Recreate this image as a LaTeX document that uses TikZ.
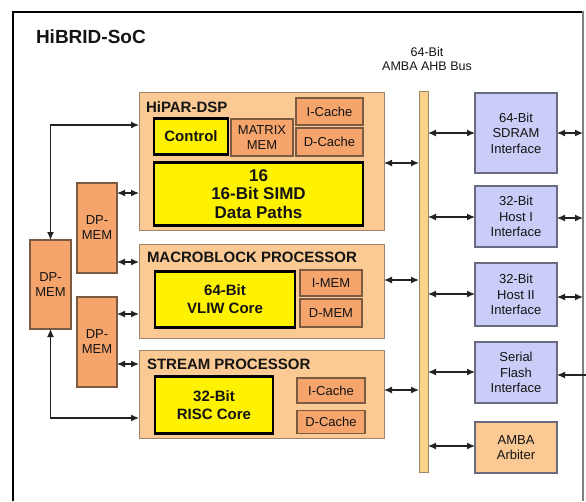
\documentclass[tikz,border=0pt]{standalone}
\usepackage{fontspec}
\setmainfont{Liberation Sans}
\usetikzlibrary{arrows.meta}
\definecolor{procfill}{HTML}{FAC994}
\definecolor{procdraw}{HTML}{9E8468}
\definecolor{memfill}{HTML}{F5A46C}
\definecolor{memdraw}{HTML}{7A5A40}
\definecolor{iffill}{HTML}{CACDF7}
\definecolor{ifdraw}{HTML}{6A6A80}
\definecolor{busfill}{HTML}{F9D48A}
\definecolor{arrowc}{HTML}{222222}
\definecolor{txt}{HTML}{141414}
\begin{document}
\begin{tikzpicture}[x=1pt,y=-1pt,
  every node/.style={inner sep=0pt,outer sep=0pt,text=txt},
  proc/.style={draw=procdraw,fill=procfill,line width=1pt},
  mem/.style={draw=memdraw,fill=memfill,line width=1.1pt,align=center,font=\fontsize{13}{15}\selectfont},
  core/.style={draw=black,fill=yellow,line width=2.4pt,align=center,font=\fontsize{15}{18}\selectfont\bfseries},
  iface/.style={draw=ifdraw,fill=iffill,line width=1.1pt,align=center,font=\fontsize{13}{15.5}\selectfont},
  ptitle/.style={anchor=base west,font=\fontsize{15}{17}\selectfont\bfseries},
  dar/.style={{Latex[length=8pt,width=7pt]}-{Latex[length=8pt,width=7pt]},line width=1.3pt,draw=arrowc},
  sar/.style={-{Latex[length=8pt,width=7pt]},line width=1.3pt,draw=arrowc}]
\useasboundingbox (0,0) rectangle (586,501);
% frame
\draw[line width=1.8pt,black] (13,501) -- (13,12);
\draw[line width=1.5pt,black] (12.1,12) -- (583,12);
\draw[line width=2pt,gray] (583,11.3) -- (583,501);
% title
\node[anchor=base west,font=\fontsize{19}{20}\selectfont\bfseries] (title) at (36,43) {HiBRID-SoC};
\node[align=center,font=\fontsize{12.5}{14}\selectfont] (buslabel) at (427,59) {64-Bit\\AMBA AHB Bus};
% processors
\node[proc,minimum width=245pt,minimum height=138pt] (hipar) at (261.5,161) {};
\node[ptitle] (hipart) at (146,112) {HiPAR-DSP};
\node[core,minimum width=74pt,minimum height=36pt] (control) at (191,136.5) {Control};
\node[mem,minimum width=62pt,minimum height=37pt] (matrix) at (262,137.5) {MATRIX\\MEM};
\node[mem,minimum width=67pt,minimum height=27pt] (icache1) at (329.5,111.5) {I-Cache};
\node[mem,minimum width=67pt,minimum height=28pt] (dcache1) at (329.5,142) {D-Cache};
\node[core,minimum width=209pt,minimum height=63pt,font=\fontsize{17}{18.5}\selectfont\bfseries] (simd) at (258.5,194) {16\\16-Bit SIMD\\Data Paths};

\node[proc,minimum width=245pt,minimum height=94pt] (macro) at (261.5,291) {};
\node[ptitle] (macrot) at (147,262) {MACROBLOCK PROCESSOR};
\node[core,minimum width=140pt,minimum height=56pt] (vliw) at (225,299.5) {64-Bit\\VLIW Core};
\node[mem,minimum width=62pt,minimum height=26pt] (imem) at (331,283) {I-MEM};
\node[mem,minimum width=62pt,minimum height=28pt] (dmem) at (331,313) {D-MEM};

\node[proc,minimum width=245pt,minimum height=88pt] (stream) at (261.5,394) {};
\node[ptitle] (streamt) at (147,369) {STREAM PROCESSOR};
\node[core,minimum width=118pt,minimum height=57pt] (risc) at (214,405) {32-Bit\\RISC Core};
\node[mem,minimum width=68pt,minimum height=25pt] (icache2) at (331,390.5) {I-Cache};
\node[mem,minimum width=68pt,minimum height=23pt] (dcache2) at (331,422) {D-Cache};

% DP memories
\node[mem,minimum width=40pt,minimum height=90pt] (dp1) at (97,228) {DP-\\MEM};
\node[mem,minimum width=40pt,minimum height=90pt] (dp2) at (97,342) {DP-\\MEM};
\node[mem,minimum width=41pt,minimum height=89pt] (dpl) at (50.5,284.5) {DP-\\MEM};

% bus
\node[draw=procdraw,fill=busfill,line width=1pt,minimum width=9pt,minimum height=381pt] (bus) at (423.5,281.5) {};

% interfaces
\node[iface,minimum width=82pt,minimum height=80pt] (sdram) at (516,133) {64-Bit\\SDRAM\\Interface};
\node[iface,minimum width=82pt,minimum height=61pt] (host1) at (516,216.5) {32-Bit\\Host I\\Interface};
\node[iface,minimum width=82pt,minimum height=63pt] (host2) at (516,294.5) {32-Bit\\Host II\\Interface};
\node[iface,minimum width=82pt,minimum height=61pt] (flash) at (516,372.5) {Serial\\Flash\\Interface};
\node[draw=ifdraw,fill=procfill,line width=1.1pt,align=center,font=\fontsize{13}{15.5}\selectfont,minimum width=82pt,minimum height=51pt] (arbiter) at (516,447.5) {AMBA\\Arbiter};

% external ends
\coordinate (e1) at (583,133);
\coordinate (e2) at (583,218);
\coordinate (e3) at (583,297);
\coordinate (e4) at (587,375);

% DP-MEM connections
\draw[dar] (dp1.east |- 0,193) -- (hipar.west |- 0,193);
\draw[dar] (dp1.east |- 0,262) -- (macro.west |- 0,262);
\draw[dar] (dp2.east |- 0,314) -- (macro.west |- 0,314);
\draw[dar] (dp2.east |- 0,364) -- (stream.west |- 0,364);
\draw[dar] (dpl.north) |- (hipar.west |- 0,125);
\draw[dar] (dpl.south) |- (stream.west |- 0,418);

% processors to bus
\draw[dar] (hipar.east |- 0,163) -- (bus.west |- 0,163);
\draw[dar] (macro.east |- 0,280) -- (bus.west |- 0,280);
\draw[dar] (stream.east |- 0,390) -- (bus.west |- 0,390);

% bus to interfaces
\draw[dar] (bus.east |- 0,133) -- (sdram.west |- 0,133);
\draw[dar] (bus.east |- 0,217) -- (host1.west |- 0,217);
\draw[dar] (bus.east |- 0,294) -- (host2.west |- 0,294);
\draw[dar] (bus.east |- 0,372) -- (flash.west |- 0,372);
\draw[dar] (bus.east |- 0,446) -- (arbiter.west |- 0,446);

% interfaces to outside
\draw[dar] (sdram.east |- e1) -- (e1);
\draw[dar] (host1.east |- e2) -- (e2);
\draw[dar] (host2.east |- e3) -- (e3);
\draw[sar] (e4) -- (flash.east |- e4);
\end{tikzpicture}
\end{document}
